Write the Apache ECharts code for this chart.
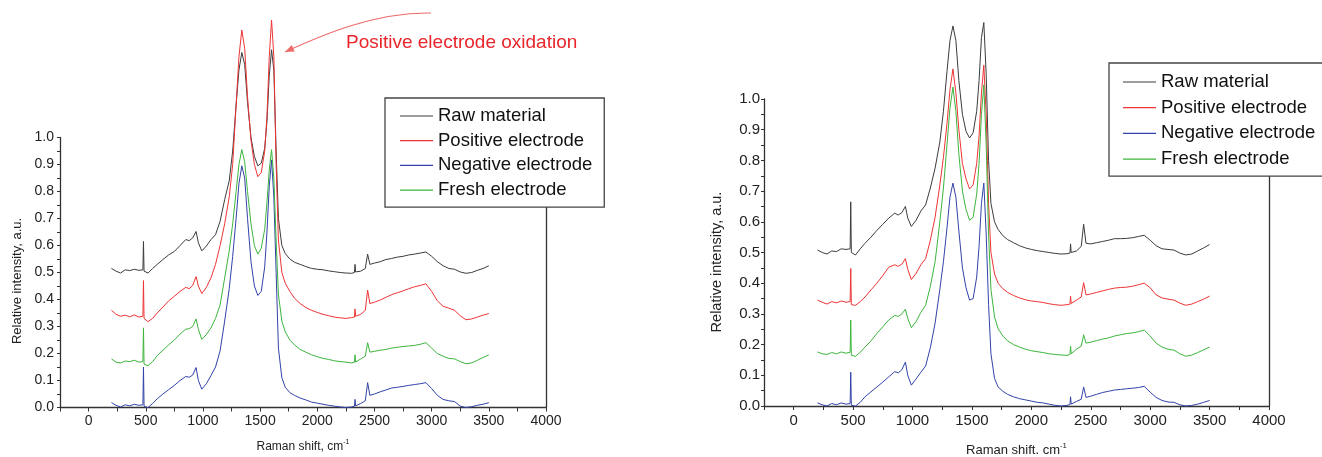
<!DOCTYPE html>
<html>
<head>
<meta charset="utf-8">
<script src="https://cdn.jsdelivr.net/npm/echarts@6.0.0/dist/echarts.min.js"></script>
<style>
  html, body { margin: 0; padding: 0; background: #fff; }
  #chart { width: 1322px; height: 457px; }
</style>
</head>
<body>
<div id="chart"></div>
<script>
// Raman shift, cm-1 (shared by both panels)
var X = [200, 240, 280, 320, 360, 400, 440, 475, 480, 485, 520, 560, 600, 650, 700, 750, 800, 850, 880, 910,
         940, 960, 990, 1030, 1070, 1110, 1150, 1190, 1230, 1260, 1290, 1315, 1340, 1365, 1390, 1420, 1450, 1480, 1510, 1540,
         1560, 1580, 1600, 1620, 1640, 1660, 1690, 1720, 1760, 1800, 1850, 1900, 1950, 2000, 2050, 2100, 2150, 2200, 2250, 2300,
         2325, 2330, 2335, 2380, 2420, 2440, 2460, 2500, 2550, 2600, 2650, 2700, 2750, 2800, 2850, 2900, 2950, 3000, 3050, 3100,
         3150, 3200, 3250, 3300, 3350, 3400, 3450, 3500];

// left panel
var L_RAW = [0.515, 0.505, 0.498, 0.510, 0.507, 0.512, 0.508, 0.510, 0.615, 0.505, 0.498, 0.515, 0.530, 0.548, 0.565, 0.578, 0.600, 0.622, 0.618, 0.628,
             0.652, 0.610, 0.580, 0.598, 0.622, 0.640, 0.690, 0.770, 0.840, 0.950, 1.120, 1.250, 1.315, 1.270, 1.130, 1.000, 0.930, 0.895, 0.905, 0.960,
             1.060, 1.230, 1.325, 1.250, 0.950, 0.700, 0.600, 0.570, 0.550, 0.538, 0.530, 0.522, 0.515, 0.512, 0.510, 0.506, 0.503, 0.500, 0.498, 0.497,
             0.500, 0.530, 0.502, 0.505, 0.515, 0.568, 0.530, 0.535, 0.540, 0.548, 0.552, 0.557, 0.560, 0.565, 0.568, 0.572, 0.576, 0.560, 0.540, 0.525,
             0.515, 0.512, 0.502, 0.497, 0.500, 0.508, 0.515, 0.525];
var L_POS = [0.360, 0.345, 0.338, 0.342, 0.336, 0.343, 0.335, 0.338, 0.470, 0.330, 0.318, 0.330, 0.350, 0.372, 0.395, 0.412, 0.430, 0.445, 0.440, 0.452,
             0.485, 0.450, 0.422, 0.445, 0.480, 0.530, 0.600, 0.680, 0.780, 0.900, 1.120, 1.300, 1.398, 1.330, 1.150, 0.990, 0.900, 0.855, 0.870, 0.950,
             1.080, 1.300, 1.435, 1.300, 0.900, 0.620, 0.500, 0.460, 0.430, 0.405, 0.385, 0.370, 0.360, 0.352, 0.345, 0.340, 0.335, 0.332, 0.330, 0.333,
             0.335, 0.365, 0.338, 0.345, 0.360, 0.435, 0.385, 0.390, 0.398, 0.408, 0.418, 0.425, 0.432, 0.440, 0.447, 0.452, 0.458, 0.430, 0.395, 0.375,
             0.368, 0.360, 0.340, 0.325, 0.328, 0.335, 0.342, 0.348];
var L_NEG = [0.018, 0.008, 0.002, 0.010, 0.006, 0.012, 0.008, 0.010, 0.150, 0.004, 0.000, 0.015, 0.032, 0.050, 0.066, 0.082, 0.100, 0.115, 0.112, 0.120,
             0.148, 0.100, 0.068, 0.088, 0.118, 0.150, 0.210, 0.320, 0.440, 0.560, 0.700, 0.830, 0.895, 0.850, 0.700, 0.540, 0.450, 0.415, 0.430, 0.520,
             0.650, 0.820, 0.917, 0.780, 0.500, 0.220, 0.110, 0.075, 0.055, 0.045, 0.035, 0.028, 0.020, 0.016, 0.012, 0.008, 0.005, 0.002, 0.000, 0.002,
             0.005, 0.030, 0.006, 0.015, 0.025, 0.092, 0.045, 0.050, 0.058, 0.065, 0.072, 0.075, 0.078, 0.082, 0.085, 0.088, 0.092, 0.070, 0.045, 0.030,
             0.025, 0.022, 0.005, 0.000, 0.003, 0.008, 0.012, 0.018];
var L_FRESH = [0.180, 0.168, 0.165, 0.172, 0.170, 0.175, 0.168, 0.170, 0.295, 0.160, 0.155, 0.170, 0.192, 0.212, 0.232, 0.250, 0.272, 0.290, 0.292, 0.300,
               0.328, 0.290, 0.252, 0.270, 0.295, 0.330, 0.380, 0.480, 0.580, 0.680, 0.800, 0.900, 0.955, 0.910, 0.800, 0.680, 0.600, 0.568, 0.590, 0.660,
               0.760, 0.880, 0.955, 0.850, 0.620, 0.420, 0.320, 0.280, 0.250, 0.232, 0.215, 0.205, 0.195, 0.188, 0.182, 0.178, 0.173, 0.170, 0.168, 0.165,
               0.168, 0.195, 0.168, 0.180, 0.190, 0.240, 0.205, 0.208, 0.212, 0.215, 0.220, 0.223, 0.226, 0.228, 0.230, 0.234, 0.240, 0.220, 0.200, 0.190,
               0.182, 0.180, 0.170, 0.162, 0.165, 0.175, 0.185, 0.195];

// right panel
var R_RAW = [0.508, 0.500, 0.495, 0.505, 0.503, 0.512, 0.510, 0.512, 0.665, 0.500, 0.492, 0.512, 0.530, 0.550, 0.572, 0.592, 0.612, 0.628, 0.622, 0.630,
             0.650, 0.612, 0.585, 0.605, 0.635, 0.655, 0.710, 0.775, 0.860, 0.960, 1.090, 1.190, 1.238, 1.190, 1.060, 0.950, 0.895, 0.873, 0.890, 0.960,
             1.060, 1.200, 1.249, 1.080, 0.800, 0.660, 0.600, 0.575, 0.555, 0.542, 0.532, 0.522, 0.515, 0.510, 0.506, 0.503, 0.500, 0.497, 0.495, 0.496,
             0.498, 0.528, 0.500, 0.505, 0.520, 0.592, 0.530, 0.528, 0.532, 0.536, 0.540, 0.545, 0.545, 0.546, 0.548, 0.552, 0.556, 0.540, 0.522, 0.512,
             0.510, 0.508, 0.498, 0.492, 0.495, 0.505, 0.515, 0.526];
var R_POS = [0.345, 0.338, 0.332, 0.340, 0.336, 0.342, 0.338, 0.340, 0.448, 0.330, 0.328, 0.340, 0.355, 0.378, 0.400, 0.425, 0.452, 0.460, 0.455, 0.462,
             0.480, 0.445, 0.412, 0.432, 0.460, 0.480, 0.540, 0.615, 0.720, 0.810, 0.920, 1.030, 1.098, 1.020, 0.900, 0.790, 0.740, 0.707, 0.720, 0.790,
             0.880, 1.020, 1.110, 0.950, 0.660, 0.500, 0.430, 0.400, 0.382, 0.370, 0.360, 0.352, 0.346, 0.342, 0.340, 0.337, 0.333, 0.330, 0.328, 0.330,
             0.332, 0.358, 0.334, 0.345, 0.355, 0.402, 0.362, 0.365, 0.370, 0.375, 0.380, 0.384, 0.386, 0.387, 0.390, 0.395, 0.400, 0.385, 0.362, 0.352,
             0.348, 0.345, 0.335, 0.328, 0.332, 0.340, 0.348, 0.358];
var R_NEG = [0.010, 0.004, 0.000, 0.008, 0.004, 0.010, 0.006, 0.008, 0.110, 0.002, 0.000, 0.012, 0.030, 0.046, 0.062, 0.078, 0.095, 0.112, 0.108, 0.118,
             0.143, 0.100, 0.068, 0.088, 0.110, 0.130, 0.190, 0.270, 0.380, 0.470, 0.580, 0.680, 0.726, 0.680, 0.570, 0.450, 0.385, 0.345, 0.350, 0.420,
             0.520, 0.660, 0.726, 0.560, 0.330, 0.170, 0.090, 0.062, 0.048, 0.038, 0.030, 0.024, 0.020, 0.016, 0.012, 0.010, 0.006, 0.002, 0.000, 0.002,
             0.005, 0.030, 0.006, 0.015, 0.022, 0.062, 0.028, 0.032, 0.038, 0.044, 0.048, 0.052, 0.054, 0.056, 0.058, 0.060, 0.064, 0.045, 0.028, 0.018,
             0.013, 0.012, 0.004, 0.000, 0.002, 0.006, 0.012, 0.018];
var R_FRESH = [0.176, 0.170, 0.168, 0.174, 0.170, 0.176, 0.172, 0.175, 0.280, 0.165, 0.162, 0.175, 0.192, 0.212, 0.236, 0.258, 0.280, 0.295, 0.292, 0.300,
               0.315, 0.285, 0.255, 0.275, 0.305, 0.328, 0.390, 0.470, 0.600, 0.710, 0.850, 0.970, 1.039, 0.960, 0.820, 0.700, 0.640, 0.605, 0.615, 0.690,
               0.790, 0.950, 1.046, 0.850, 0.560, 0.380, 0.290, 0.252, 0.228, 0.212, 0.200, 0.192, 0.185, 0.180, 0.177, 0.174, 0.170, 0.168, 0.166, 0.165,
               0.168, 0.195, 0.170, 0.185, 0.195, 0.232, 0.205, 0.208, 0.213, 0.218, 0.222, 0.228, 0.232, 0.236, 0.238, 0.242, 0.247, 0.228, 0.205, 0.192,
               0.185, 0.182, 0.170, 0.162, 0.166, 0.174, 0.183, 0.192];

var NAMES = ['Raw material', 'Positive electrode', 'Negative electrode', 'Fresh electrode'];
var COLORS = ['#3c3c3c', '#ee3434', '#3242a8', '#3db53d'];
var X_LABELS = [0, 500, 1000, 1500, 2000, 2500, 3000, 3500, 4000];

var FONT = '"Liberation Sans", Arial, Helvetica, sans-serif';
var myChart = echarts.init(document.getElementById('chart'));

function pairs(ys) {
    return X.map(function (x, i) { return [x, ys[i]]; });
}

function xAxis(gi, fs, nfs, name, gap) {
    return {
        type: 'value', gridIndex: gi, min: -250, max: 4000, interval: 250,
        axisLine: { show: true, onZero: false, lineStyle: { color: '#333', width: 1.3 } },
        axisTick: { show: true, length: 4, lineStyle: { color: '#333' } },
        splitLine: { show: false },
        axisLabel: {
            fontSize: fs, color: '#222', fontFamily: FONT, margin: 7,
            formatter: function (v) { return X_LABELS.indexOf(v) >= 0 ? String(v) : ''; }
        },
        name: '{a|' + name + '}{s|-1}', nameLocation: 'middle', nameGap: gap,
        nameTextStyle: {
            rich: {
                a: { fontSize: nfs, color: '#222', fontFamily: FONT },
                s: { fontSize: nfs * 0.6, color: '#222', fontFamily: FONT, padding: [0, 0, 9, 0] }
            }
        }
    };
}

function yAxis(gi, fs, margin) {
    return {
        type: 'value', gridIndex: gi, position: 'left', min: 0, max: 1, interval: 0.05,
        axisLine: { show: true, onZero: false, lineStyle: { color: '#333', width: 1.3 } },
        axisTick: { show: true, length: 3, lineStyle: { color: '#333' } },
        splitLine: { show: false },
        axisLabel: {
            fontSize: fs, color: '#222', fontFamily: FONT, margin: margin,
            formatter: function (v) { return Math.round(v * 20) % 2 === 0 ? v.toFixed(1) : ''; }
        }
    };
}

// right edge of each frame
function frameAxis(gi) {
    return {
        type: 'value', gridIndex: gi, position: 'right', min: 0, max: 1,
        axisLine: { show: true, onZero: false, lineStyle: { color: '#333', width: 1.3 } },
        axisTick: { show: false }, axisLabel: { show: false }, splitLine: { show: false }
    };
}

function legend(left, top, padding, gap, fs) {
    return {
        orient: 'vertical', left: left, top: top, data: NAMES,
        icon: 'rect', itemWidth: 33, itemHeight: 1.2, itemGap: gap,
        padding: padding, backgroundColor: '#fff',
        borderColor: '#444', borderWidth: 1.3, borderRadius: 0,
        selectedMode: false, z: 10,
        textStyle: { fontSize: fs, lineHeight: 17, color: '#111', fontFamily: FONT }
    };
}

var panels = [[L_RAW, L_POS, L_NEG, L_FRESH], [R_RAW, R_POS, R_NEG, R_FRESH]];
var series = [];
panels.forEach(function (sets, p) {
    sets.forEach(function (ys, k) {
        series.push({
            name: NAMES[k], type: 'line', xAxisIndex: p, yAxisIndex: p * 2,
            data: pairs(ys), showSymbol: false, symbol: 'none', clip: false,
            color: COLORS[k], lineStyle: { color: COLORS[k], width: 1 }
        });
    });
});

// annotation arrow (pixel space)
var tip = [285, 52], cp2 = [322, 35];
var dx = tip[0] - cp2[0], dy = tip[1] - cp2[1], len = Math.sqrt(dx * dx + dy * dy);
dx /= len; dy /= len;
var head = [tip, [tip[0] - dx * 9 - dy * 3.5, tip[1] - dy * 9 + dx * 3.5], [tip[0] - dx * 9 + dy * 3.5, tip[1] - dy * 9 - dx * 3.5]];

var option = {
    animation: false,
    backgroundColor: '#fff',
    grid: [
        { left: 60, width: 486, top: 137.5, height: 270, outerBoundsMode: 'none' },
        { left: 764, width: 505, top: 99, height: 307, outerBoundsMode: 'none' }
    ],
    xAxis: [
        xAxis(0, 14, 12, 'Raman shift, cm', 31),
        xAxis(1, 15, 13, 'Raman shift. cm', 36)
    ],
    yAxis: [yAxis(0, 14, 6), frameAxis(0), yAxis(1, 15, 4), frameAxis(1)],
    legend: [
        legend(385, 98, [8.5, 12, 7.5, 15], 5.7, 18.5),
        legend(1109, 63, [9.5, 40, 7.5, 14], 6.7, 18.5)
    ],
    series: series,
    graphic: [
        { type: 'text', x: 17, y: 281, rotation: Math.PI / 2,
          style: { text: 'Relative intensity, a.u.', fontSize: 13, fill: '#222', fontFamily: FONT, align: 'center', verticalAlign: 'middle' } },
        { type: 'text', x: 717, y: 262, rotation: Math.PI / 2,
          style: { text: 'Relative intensity, a.u.', fontSize: 14.5, fill: '#222', fontFamily: FONT, align: 'center', verticalAlign: 'middle' } },
        { type: 'text', x: 346, y: 43,
          style: { text: 'Positive electrode oxidation', fontSize: 19, fill: '#e8262b', fontFamily: FONT, align: 'left', verticalAlign: 'middle' } },
        { type: 'bezierCurve',
          shape: { x1: 431, y1: 13, cpx1: 375, cpy1: 12, cpx2: cp2[0], cpy2: cp2[1], x2: tip[0], y2: tip[1] },
          style: { stroke: '#ef6a6a', lineWidth: 1.1, fill: null } },
        { type: 'polygon', shape: { points: head }, style: { fill: '#ef6a6a' } }
    ]
};

myChart.setOption(option);
</script>
</body>
</html>
